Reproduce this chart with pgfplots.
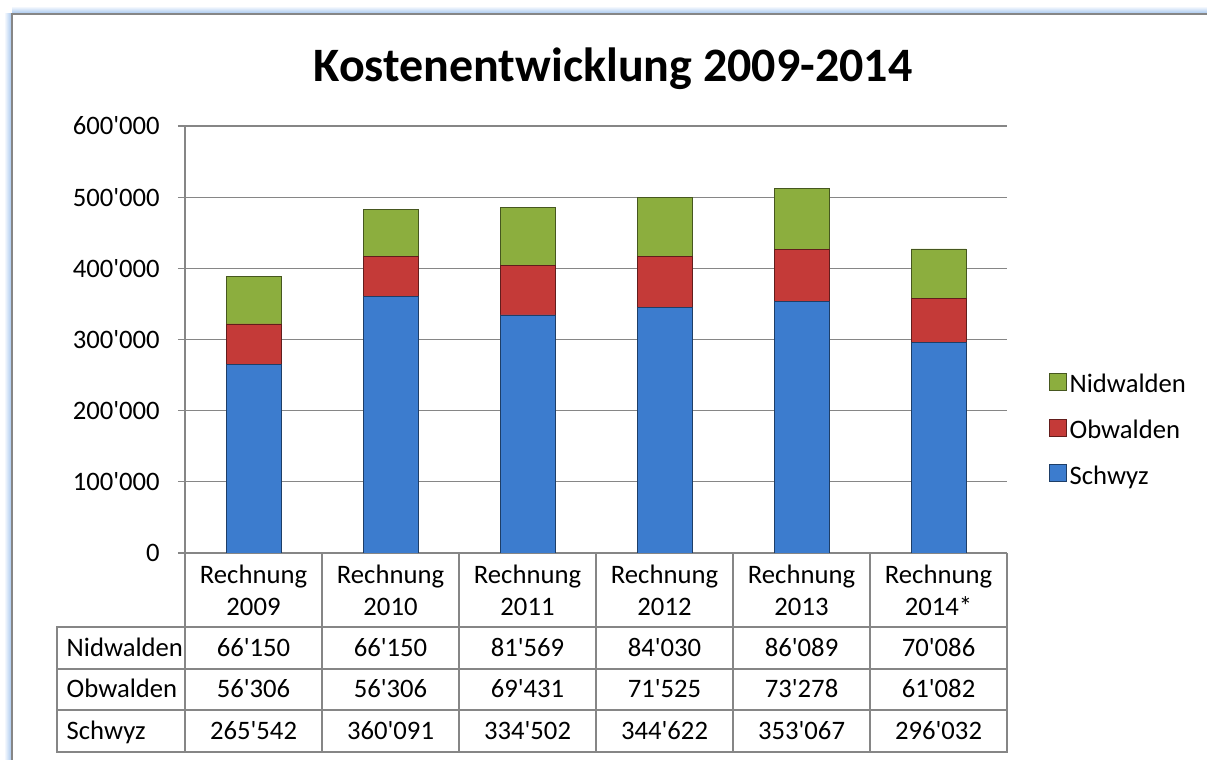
\documentclass[border=0pt]{standalone}
\usepackage{pgfplots}
\pgfplotsset{compat=1.18}
\usepackage{pgfplotstable}
\usepackage{fontspec}
\setmainfont{Carlito}[Ligatures=TeXOff]
\definecolor{cBlue}{RGB}{60,124,206}
\definecolor{cRed}{RGB}{196,58,56}
\definecolor{cGreen}{RGB}{140,174,62}
\definecolor{gridgray}{RGB}{134,134,134}
\definecolor{glow}{RGB}{160,195,238}
\newcommand\lab{\fontsize{20}{24}\selectfont}
\pgfplotstableread{
x schwyz obwalden nidwalden
0 265542 56306 66150
1 360091 56306 66150
2 334502 69431 81569
3 344622 71525 84030
4 353067 73278 86089
5 296032 61082 70086
}\data
\begin{document}
\begin{tikzpicture}
\useasboundingbox (0,0) rectangle (905.25pt,570pt);
% frame
\begin{scope}[x=0.75pt,y=-0.75pt,shift={(0pt,570pt)}]
\shade[left color=white, right color=glow] (4,14) rectangle (12,760);
\shade[top color=white, bottom color=glow] (12,6) rectangle (1207,14);
\draw[gridgray, line width=1.2pt] (12,760) -- (12,14) -- (1207,14);
\node[anchor=base, font=\fontsize{36}{40}\selectfont\bfseries] at (613,82) {Kostenentwicklung 2009-2014};
\end{scope}
\begin{axis}[
  at={(138.75pt,155.25pt)}, anchor=south west,
  scale only axis, width=616.5pt, height=320.25pt,
  ybar stacked, bar width=41.25pt,
  xmin=-0.5, xmax=5.5, ymin=0, ymax=600000,
  xtick=\empty,
  scaled y ticks=false,
  ytick={0,100000,200000,300000,400000,500000,600000},
  yticklabels={0,100'000,200'000,300'000,400'000,500'000,600'000},
  yticklabel style={font=\lab, inner sep=0pt, xshift=-13.5pt},
  ymajorgrids, grid style={gridgray, line width=1pt},
  axis lines*=left, axis line style={-, gridgray, line width=1pt},
  tick style={gridgray, line width=1pt}, tick align=outside, major tick length=5.25pt,
  ytick pos=left,
  reverse legend,
  legend style={at={(1.051,0.288)}, anchor=west, draw=none, fill=none, font=\lab,
    inner sep=0pt, row sep=15pt, cells={anchor=west}},
  legend image code/.code={\draw[#1] (0pt,-4.5pt) rectangle (12.75pt,8.25pt);},
]
\addplot[fill=cBlue, draw=cBlue!50!black, line width=0.6pt] table[x=x,y=schwyz]{\data};
\addlegendentry{Schwyz}
\addplot[fill=cRed, draw=cRed!50!black, line width=0.6pt] table[x=x,y=obwalden]{\data};
\addlegendentry{Obwalden}
\addplot[fill=cGreen, draw=cGreen!50!black, line width=0.6pt] table[x=x,y=nidwalden]{\data};
\addlegendentry{Nidwalden}
\end{axis}
% data table
\begin{scope}[x=0.75pt,y=-0.75pt,shift={(0pt,570pt)}, font=\lab]
\draw[gridgray, line width=1pt] (57,627) rectangle (1007,752);
\draw[gridgray, line width=1pt] (57,669) -- (1007,669) (57,710) -- (1007,710);
\draw[gridgray, line width=1pt] (1007,553) -- (1007,752);
\foreach \xx in {185,322,459,596,733,870} \draw[gridgray, line width=1pt] (\xx,553) -- (\xx,752);
\node[anchor=base west] at (62,657) {Nidwalden};
\node[anchor=base west] at (62,698) {Obwalden};
\node[anchor=base west] at (62,739.5) {Schwyz};
\foreach \i/\yr/\n/\o/\s in {0/2009/66'150/56'306/265'542, 1/2010/66'150/56'306/360'091, 2/2011/81'569/69'431/334'502, 3/2012/84'030/71'525/344'622, 4/2013/86'089/73'278/353'067, 5/2014*/70'086/61'082/296'032}{
  \pgfmathsetmacro\cx{253.5+137*\i}
  \node[anchor=base] at (\cx,584) {Rechnung};
  \node[anchor=base] at (\cx,615.5) {\yr};
  \node[anchor=base] at (\cx,657) {\n};
  \node[anchor=base] at (\cx,698) {\o};
  \node[anchor=base] at (\cx,739.5) {\s};
}
\end{scope}
\end{tikzpicture}
\end{document}
